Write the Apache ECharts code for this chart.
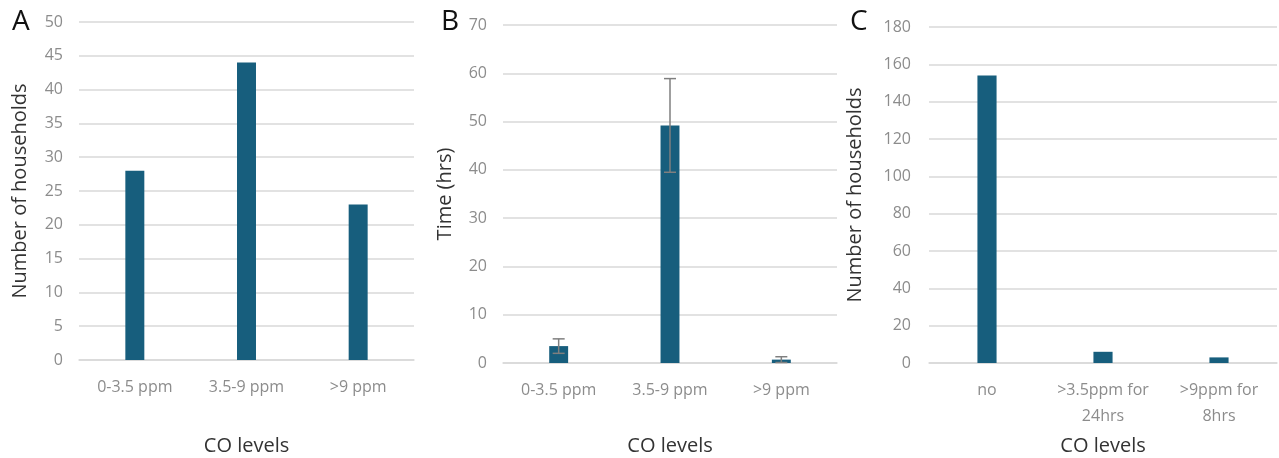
<!DOCTYPE html>
<html><head><meta charset="utf-8">
<script src="https://cdn.jsdelivr.net/npm/echarts@6/dist/echarts.min.js"></script>
<style>html,body{margin:0;padding:0;background:#fff}#c{width:1279px;height:458px}</style>
</head><body><div id="c"></div>
<script>
const catsAB = ['0-3.5 ppm', '3.5-9 ppm', '>9 ppm'];
const catsC = ['no', '>3.5ppm for\n24hrs', '>9ppm for\n8hrs'];
const householdsA = [28, 44, 23];
const timeB = [3.5, 49.2, 0.7];
const timeErrB = [1.5, 9.7, 0.6];
const householdsC = [154, 6, 3];
const yTicksA = {min: 0, max: 50, interval: 5};
const yTicksB = {min: 0, max: 70, interval: 10};
const yTicksC = {min: 0, max: 180, interval: 20};

const BAR = '#175e7d';
const tickLabel = {color: '#8c8c8c', fontSize: 16, fontFamily: 'Open Sans'};
const nameStyle = {color: '#333', fontSize: 20, fontFamily: 'Open Sans'};
const grids = [
  {left: 79, right: 865, top: 22, bottom: 98, outerBoundsMode: 'none'},
  {left: 503, right: 442, top: 25, bottom: 95, outerBoundsMode: 'none'},
  {left: 929, right: 2, top: 27, bottom: 95, outerBoundsMode: 'none'}
];
function xAx(i, cats, gap, margin, lh) {
  return {type: 'category', gridIndex: i, data: cats,
    axisTick: {show: false},
    axisLine: {lineStyle: {color: '#d9d9d9', width: 1.5}},
    axisLabel: Object.assign({margin: margin, lineHeight: lh || 20, interval: 0, hideOverlap: false}, tickLabel),
    name: 'CO levels', nameLocation: 'middle', nameGap: gap, nameTextStyle: nameStyle};
}
function yAx(i, t, name, gap, margin) {
  return {type: 'value', gridIndex: i, min: t.min, max: t.max, interval: t.interval,
    axisLine: {show: false}, axisTick: {show: false},
    splitLine: {lineStyle: {color: '#d9d9d9', width: 1.5}},
    axisLabel: Object.assign({margin: margin}, tickLabel),
    name: name, nameLocation: 'middle', nameGap: gap, nameRotate: 90, nameTextStyle: nameStyle};
}
const errData = timeB.map((v, i) => [i, v - timeErrB[i], v + timeErrB[i]]);

const chart = echarts.init(document.getElementById('c'));
chart.setOption({
  animation: false,
  grid: grids,
  xAxis: [xAx(0, catsAB, 76, 17), xAx(1, catsAB, 73, 17), xAx(2, catsC, 73, 14, 26)],
  yAxis: [yAx(0, yTicksA, 'Number of households', 49, 16),
          yAx(1, yTicksB, 'Time (hrs)', 48, 16),
          yAx(2, yTicksC, 'Number of households', 64, 18)],
  series: [
    {type: 'bar', xAxisIndex: 0, yAxisIndex: 0, data: householdsA, barWidth: '17%', itemStyle: {color: BAR}},
    {type: 'bar', xAxisIndex: 1, yAxisIndex: 1, data: timeB, barWidth: '17%', itemStyle: {color: BAR}},
    {type: 'custom', xAxisIndex: 1, yAxisIndex: 1, data: errData, z: 10,
      renderItem: function (params, api) {
        const x = api.value(0);
        const lo = api.coord([x, api.value(1)]);
        const hi = api.coord([x, api.value(2)]);
        const hw = 6;
        const st = {stroke: '#7f7f7f', lineWidth: 1.5};
        return {type: 'group', children: [
          {type: 'line', shape: {x1: lo[0], y1: lo[1], x2: hi[0], y2: hi[1]}, style: st},
          {type: 'line', shape: {x1: hi[0] - hw, y1: hi[1], x2: hi[0] + hw, y2: hi[1]}, style: st},
          {type: 'line', shape: {x1: lo[0] - hw, y1: lo[1], x2: lo[0] + hw, y2: lo[1]}, style: st}
        ]};
      }},
    {type: 'bar', xAxisIndex: 2, yAxisIndex: 2, data: householdsC, barWidth: '16.5%', itemStyle: {color: BAR}}
  ],
  graphic: [
    {type: 'text', left: 12, top: 8, style: {text: 'A', fontSize: 28, fill: '#111', fontFamily: 'Open Sans'}},
    {type: 'text', left: 441, top: 8, style: {text: 'B', fontSize: 28, fill: '#111', fontFamily: 'Open Sans'}},
    {type: 'text', left: 850, top: 8, style: {text: 'C', fontSize: 28, fill: '#111', fontFamily: 'Open Sans'}}
  ]
});
</script></body></html>
